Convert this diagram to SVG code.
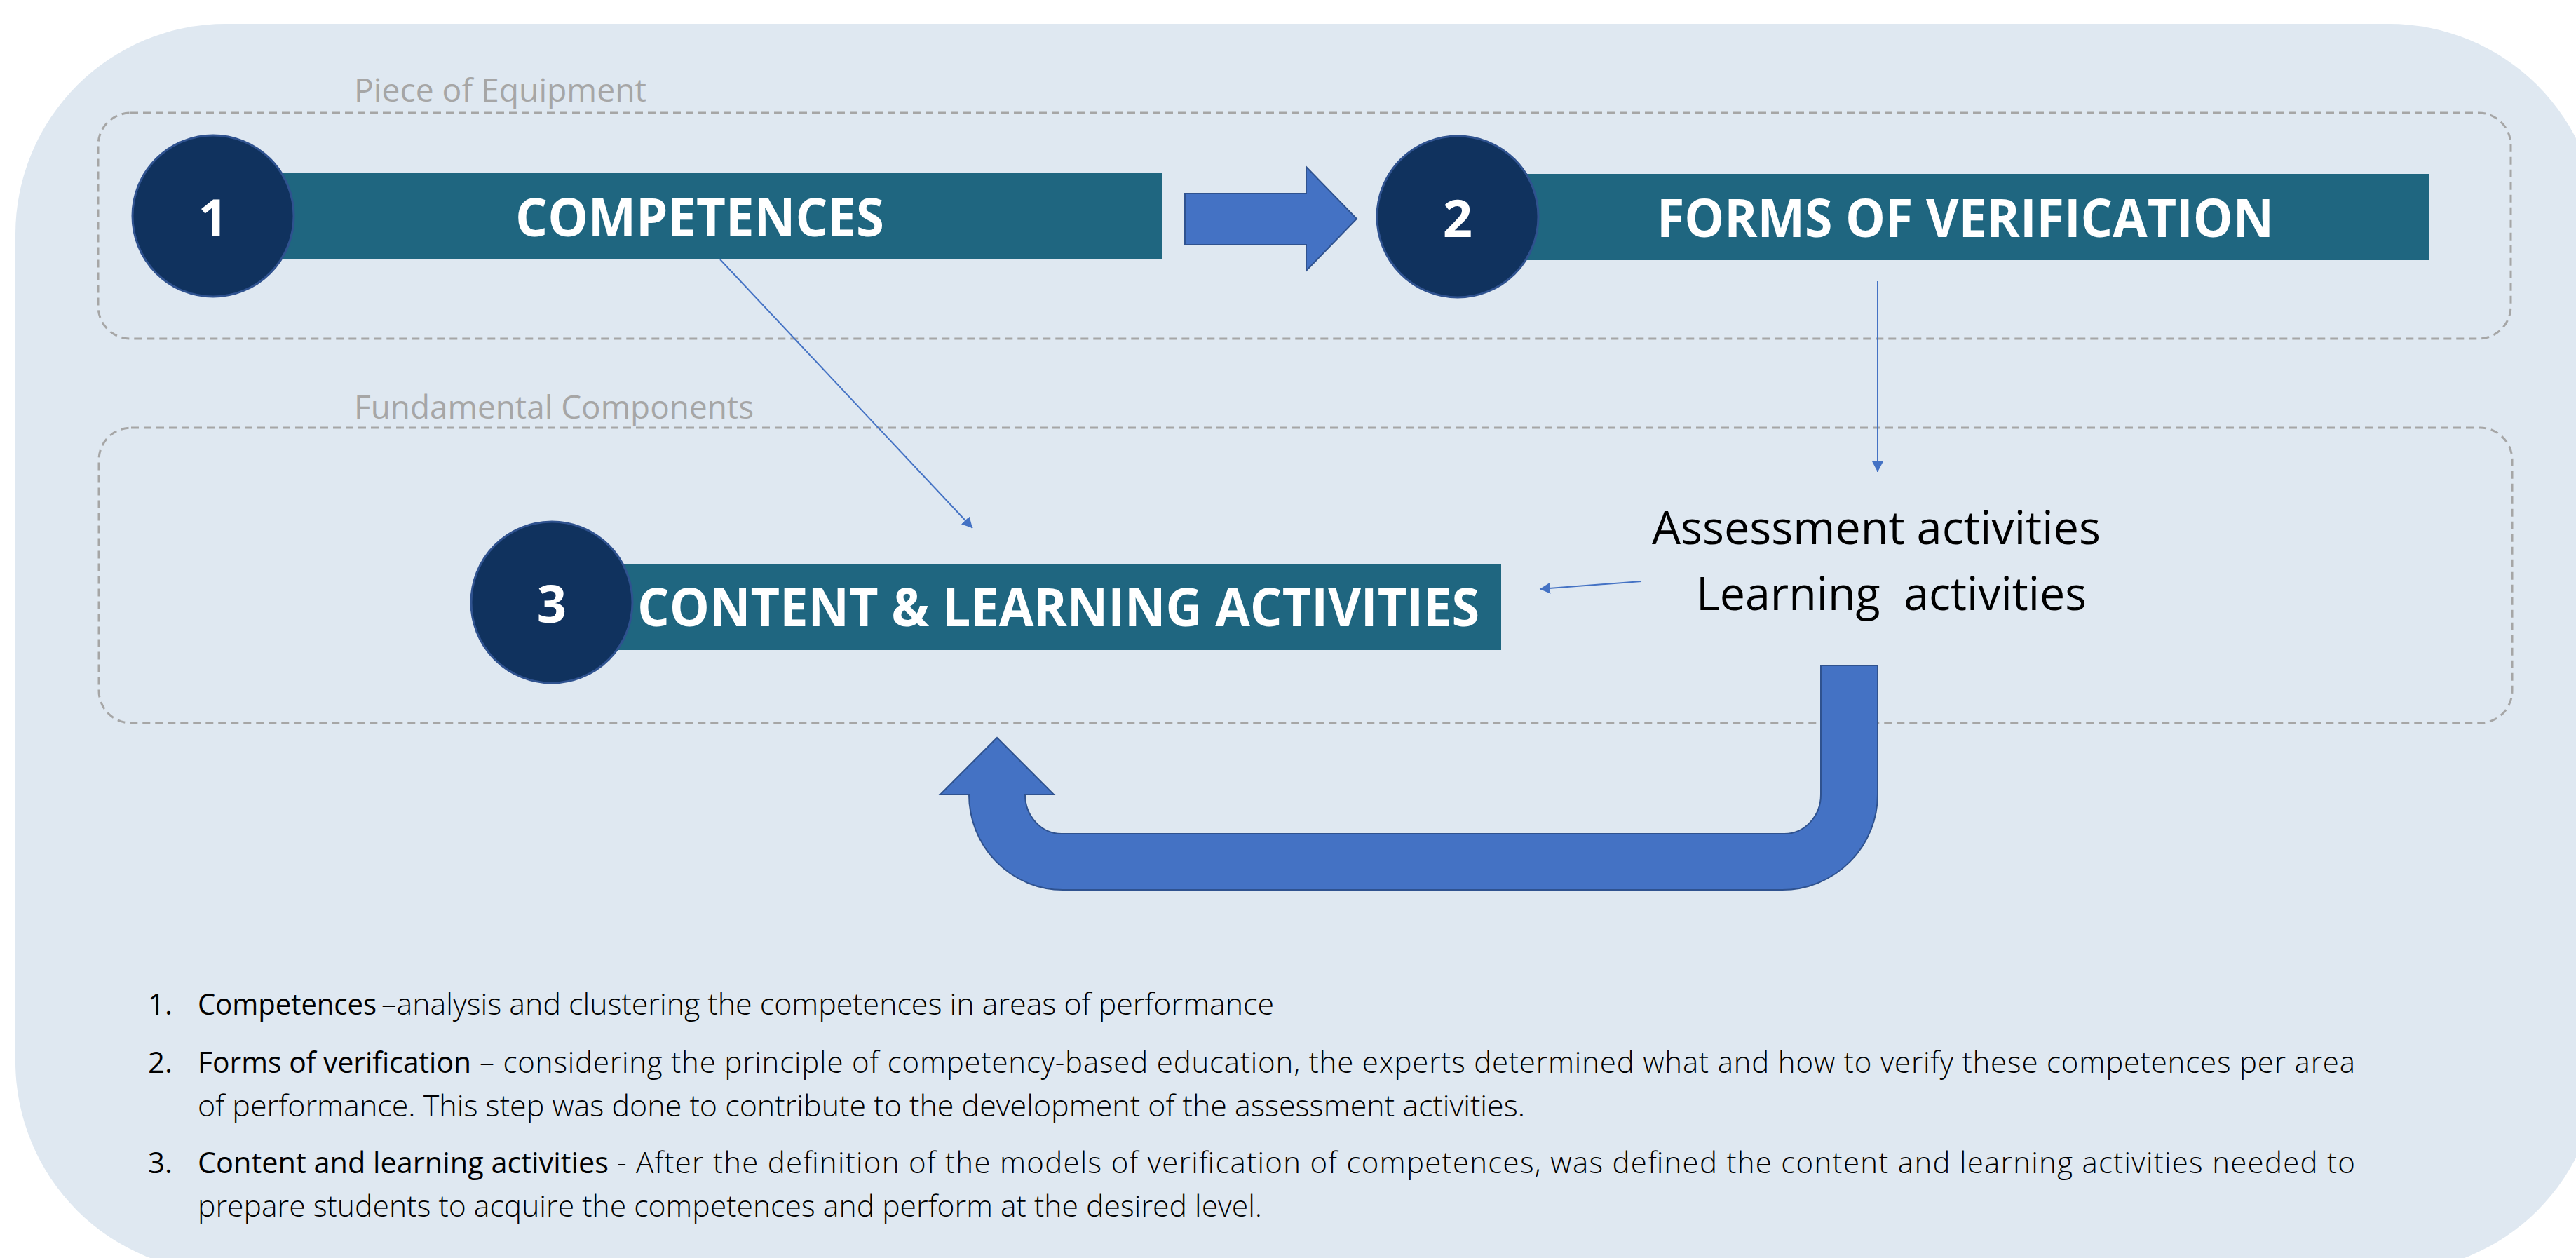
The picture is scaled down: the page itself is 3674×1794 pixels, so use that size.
<svg xmlns="http://www.w3.org/2000/svg" width="3674" height="1794" viewBox="0 0 3674 1794">
  <style>
    .panel { fill: #dfe8f1; }
    .zone { fill: none; stroke: #a6a6a6; stroke-width: 3; stroke-dasharray: 11 7; }
    .zone-label { font-family: "Open Sans", "Liberation Sans", sans-serif; font-weight: 400; font-size: 46px; fill: #a6a6a6; }
    .bar { fill: #1f6680; }
    .badge { fill: #10325e; stroke: #2f528f; stroke-width: 3; }
    .badge-num { font-family: "Open Sans", "Liberation Sans", sans-serif; font-weight: 700; font-size: 74px; fill: #ffffff; text-anchor: middle; }
    .title { font-family: "Open Sans", "Liberation Sans", sans-serif; font-weight: 700; font-size: 76px; fill: #ffffff; }
    .activity { font-family: "Open Sans", "Liberation Sans", sans-serif; font-weight: 400; font-size: 66px; fill: #000000; }
    .block { fill: #4472c4; stroke: #2f528f; stroke-width: 2; stroke-linejoin: miter; }
    .link { fill: none; stroke: #4472c4; stroke-width: 2; marker-end: url(#head); }
    .note { font-family: "Open Sans", "Liberation Sans", sans-serif; font-weight: 300; font-size: 42px; fill: #000000; }
    .note-key { font-family: "Open Sans", "Liberation Sans", sans-serif; font-weight: 500; font-size: 42px; fill: #000000; }
  </style>
  <defs>
    <marker id="head" viewBox="0 0 15 16" refX="15" refY="8" markerWidth="15" markerHeight="16" markerUnits="userSpaceOnUse" orient="auto">
      <path d="M0,0 L15,8 L0,16 Z" fill="#4472c4"/>
    </marker>
  </defs>

  <!-- background panel -->
  <rect class="panel" x="22" y="34" width="3685" height="1780" rx="300" ry="300"/>

  <!-- dashed zones and their captions -->
  <g id="zone-equipment">
    <rect class="zone" x="140" y="161" width="3441" height="322" rx="46" ry="46"/>
    <text class="zone-label" x="505" y="145" textLength="417" lengthAdjust="spacingAndGlyphs">Piece of Equipment</text>
  </g>
  <g id="zone-components">
    <rect class="zone" x="141" y="610" width="3442" height="421" rx="46" ry="46"/>
    <text class="zone-label" x="505" y="597" textLength="570" lengthAdjust="spacingAndGlyphs">Fundamental Components</text>
  </g>

  <!-- connectors -->
  <g id="connectors">
    <!-- block arrow 1 -> 2 -->
    <path class="block" d="M1690,276 L1863,276 L1863,238 L1935,312 L1863,386 L1863,349 L1690,349 Z"/>
    <!-- thin links -->
    <line class="link" x1="1027" y1="370" x2="1387" y2="753"/>
    <line class="link" x1="2678" y1="401" x2="2678" y2="673"/>
    <line class="link" x1="2341" y1="829" x2="2196" y2="840"/>
    <!-- feedback U-turn arrow -->
    <path class="block" d="M2678,949 L2678,1133 A136,136 0 0 1 2542,1269 L1516,1269 A134,136 0 0 1 1382,1133 L1341,1133 L1422,1052 L1503,1133 L1462,1133 A52,56 0 0 0 1514,1189 L2545,1189 A52,56 0 0 0 2597,1133 L2597,949 Z"/>
  </g>

  <!-- step 1 -->
  <g id="node-competences">
    <rect class="bar" x="390" y="246" width="1268" height="123"/>
    <circle class="badge" cx="304" cy="308" r="115"/>
    <text class="badge-num" x="304" y="337">1</text>
    <text class="title" x="735" y="337" textLength="526" lengthAdjust="spacingAndGlyphs">COMPETENCES</text>
  </g>

  <!-- step 2 -->
  <g id="node-forms">
    <rect class="bar" x="2150" y="248" width="1314" height="123"/>
    <circle class="badge" cx="2079" cy="309" r="115"/>
    <text class="badge-num" x="2079" y="338">2</text>
    <text class="title" x="2363" y="338" textLength="880" lengthAdjust="spacingAndGlyphs">FORMS OF VERIFICATION</text>
  </g>

  <!-- step 3 -->
  <g id="node-content">
    <rect class="bar" x="860" y="804" width="1281" height="123"/>
    <circle class="badge" cx="787" cy="859" r="115"/>
    <text class="badge-num" x="787" y="888">3</text>
    <text class="title" x="909" y="893" textLength="1201" lengthAdjust="spacingAndGlyphs">CONTENT &amp; LEARNING ACTIVITIES</text>
  </g>

  <!-- activities -->
  <g id="node-activities">
    <text class="activity" x="2356" y="776" textLength="640" lengthAdjust="spacingAndGlyphs">Assessment activities</text>
    <text class="activity" x="2419" y="870" textLength="557" lengthAdjust="spacingAndGlyphs" xml:space="preserve">Learning  activities</text>
  </g>

  <!-- numbered notes -->
  <g id="notes">
    <text class="note-key" x="211" y="1447">1.</text>
    <text class="note-key" x="282" y="1447" textLength="255" lengthAdjust="spacingAndGlyphs">Competences</text>
    <text class="note" x="544" y="1447" textLength="1273" lengthAdjust="spacingAndGlyphs">–analysis and clustering the competences in areas of performance</text>

    <text class="note-key" x="211" y="1530">2.</text>
    <text class="note-key" x="282" y="1530" textLength="390" lengthAdjust="spacingAndGlyphs">Forms of verification</text>
    <text class="note" x="684" y="1530" textLength="2675" lengthAdjust="spacing">– considering the principle of competency-based education, the experts determined what and how to verify these competences per area</text>
    <text class="note" x="282" y="1592" textLength="1893" lengthAdjust="spacingAndGlyphs">of performance. This step was done to contribute to the development of the assessment activities.</text>

    <text class="note-key" x="211" y="1673">3.</text>
    <text class="note-key" x="282" y="1673" textLength="586" lengthAdjust="spacingAndGlyphs">Content and learning activities</text>
    <text class="note" x="880" y="1673" textLength="2479" lengthAdjust="spacing">- After the definition of the models of verification of competences, was defined the content and learning activities needed to</text>
    <text class="note" x="282" y="1735" textLength="1518" lengthAdjust="spacingAndGlyphs">prepare students to acquire the competences and perform at the desired level.</text>
  </g>
</svg>
